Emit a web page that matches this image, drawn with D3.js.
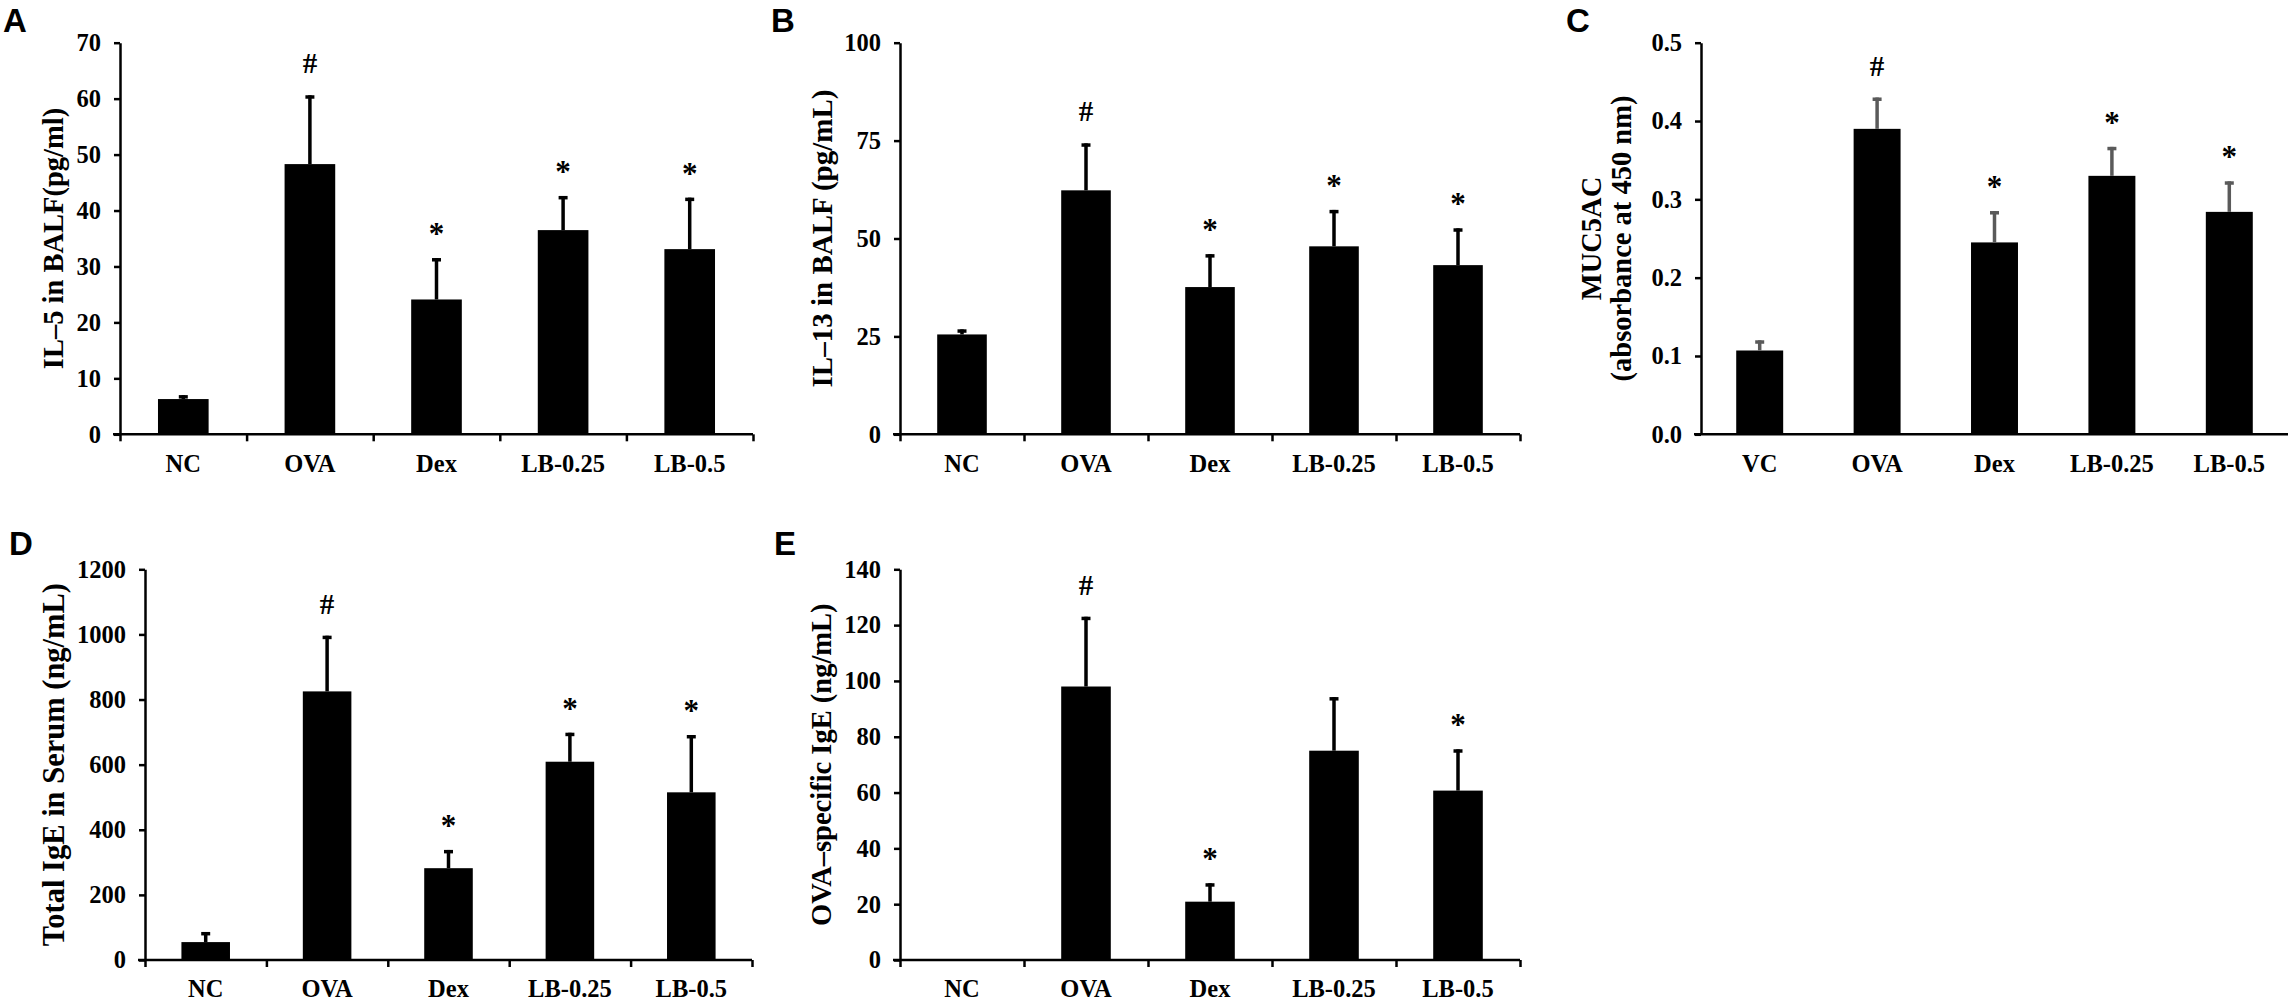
<!DOCTYPE html>
<html>
<head>
<meta charset="utf-8">
<script src="https://cdn.jsdelivr.net/npm/d3@7"></script>
<style>
  body { margin: 0; background: #fff; }
  svg { display: block; }
</style>
</head>
<body>
<script>
var width = 2292, height = 1004;

/** categories **/
var groupsNC = ["NC", "OVA", "Dex", "LB-0.25", "LB-0.5"];
var groupsVC = ["VC", "OVA", "Dex", "LB-0.25", "LB-0.5"];

/** A: IL-5 in BALF **/
var il5Mean = [6.3, 48.3, 24.1, 36.5, 33.1];
var il5Err  = [0.7, 12.3, 7.4, 6.1, 9.2];
var il5Sig  = ["", "#", "*", "*", "*"];
var il5Ticks = [0, 10, 20, 30, 40, 50, 60, 70];

/** B: IL-13 in BALF **/
var il13Mean = [25.5, 62.3, 37.6, 48.0, 43.2];
var il13Err  = [1.3, 12.0, 8.4, 9.3, 9.4];
var il13Sig  = ["", "#", "*", "*", "*"];
var il13Ticks = [0, 25, 50, 75, 100];

/** C: MUC5AC **/
var mucMean = [0.107, 0.390, 0.245, 0.330, 0.284];
var mucErr  = [0.013, 0.040, 0.040, 0.037, 0.039];
var mucSig  = ["", "#", "*", "*", "*"];
var mucTicks = [0, 0.1, 0.2, 0.3, 0.4, 0.5];

/** D: total IgE in serum **/
var igeMean = [55, 825, 282, 609, 515];
var igeErr  = [31, 171, 56, 89, 176];
var igeSig  = ["", "#", "*", "*", "*"];
var igeTicks = [0, 200, 400, 600, 800, 1000, 1200];

/** E: OVA-specific IgE **/
var ovaMean = [0, 98.0, 20.9, 75.0, 60.7];
var ovaErr  = [0, 25.0, 6.6, 19.2, 14.8];
var ovaSig  = ["", "#", "*", "", "*"];
var ovaTicks = [0, 20, 40, 60, 80, 100, 120, 140];

var serif = "'Liberation Serif', 'Times New Roman', serif";
var sans = "'Liberation Sans', Arial, sans-serif";

var svg = d3.select("body").append("svg")
    .attr("width", width)
    .attr("height", height);

svg.append("rect").attr("width", width).attr("height", height).attr("fill", "#fff");

/** panel layout **/
var panels = [
  { letter: "A", lx: 3, ly: 32, x0: 120, x1: 753, top: 42.7, bottom: 434.3,
    cats: groupsNC, mean: il5Mean, err: il5Err, sig: il5Sig, ticks: il5Ticks, fmt: d3.format("d"),
    title: ["IL\u20135 in BALF(pg/ml)"], tx: 54, tSize: 28.5, xTicks: true, errColor: "#000" },
  { letter: "B", lx: 771, ly: 32, x0: 900, x1: 1520, top: 42.7, bottom: 434.3,
    cats: groupsNC, mean: il13Mean, err: il13Err, sig: il13Sig, ticks: il13Ticks, fmt: d3.format("d"),
    title: ["IL\u201313 in BALF (pg/mL)"], tx: 822, tSize: 29, xTicks: true, errColor: "#000" },
  { letter: "C", lx: 1566, ly: 32, x0: 1701, x1: 2288, top: 42.7, bottom: 434.3,
    cats: groupsVC, mean: mucMean, err: mucErr, sig: mucSig, ticks: mucTicks, fmt: d3.format(".1f"),
    title: ["MUC5AC", "(absorbance at 450 nm)"], tx: 1607, tSize: 28.5, xTicks: false, errColor: "#5a5a5a" },
  { letter: "D", lx: 9, ly: 555, x0: 145, x1: 752, top: 569.3, bottom: 960,
    cats: groupsNC, mean: igeMean, err: igeErr, sig: igeSig, ticks: igeTicks, fmt: d3.format("d"),
    title: ["Total IgE in Serum (ng/mL)"], tx: 54, tSize: 30.5, xTicks: true, errColor: "#000" },
  { letter: "E", lx: 774, ly: 555, x0: 900, x1: 1520, top: 569.3, bottom: 960,
    cats: groupsNC, mean: ovaMean, err: ovaErr, sig: ovaSig, ticks: ovaTicks, fmt: d3.format("d"),
    title: ["OVA\u2013specific IgE (ng/mL)"], tx: 822, tSize: 28.5, xTicks: true, errColor: "#000" }
];

panels.forEach(drawPanel);

function drawPanel(p) {
  var g = svg.append("g");
  var n = p.cats.length;

  var x = d3.scaleBand().domain(p.cats).range([p.x0, p.x1])
      .paddingInner(0.6).paddingOuter(0.3);
  var y = d3.scaleLinear().domain([0, p.ticks[p.ticks.length - 1]]).range([p.bottom, p.top]);

  // panel letter
  g.append("text")
      .attr("x", p.lx).attr("y", p.ly)
      .attr("font-family", sans).attr("font-weight", "bold").attr("font-size", 33)
      .text(p.letter);

  // bars
  g.selectAll("rect.bar")
    .data(p.cats)
    .enter().append("rect")
      .attr("class", "bar")
      .attr("x", d => x(d))
      .attr("width", x.bandwidth())
      .attr("y", (d, i) => y(p.mean[i]))
      .attr("height", (d, i) => p.bottom - y(p.mean[i]))
      .attr("fill", "#000");

  // error bars (upper only)
  var cap = 4.5;
  p.cats.forEach((d, i) => {
    if (p.err[i] <= 0) return;
    var cx = x(d) + x.bandwidth() / 2;
    var yTop = y(p.mean[i] + p.err[i]);
    g.append("line")
        .attr("x1", cx).attr("x2", cx)
        .attr("y1", y(p.mean[i])).attr("y2", yTop)
        .attr("stroke", p.errColor).attr("stroke-width", 3.5);
    g.append("line")
        .attr("x1", cx - cap).attr("x2", cx + cap)
        .attr("y1", yTop + 1.7).attr("y2", yTop + 1.7)
        .attr("stroke", p.errColor).attr("stroke-width", 3.5);
  });

  // significance marks
  g.selectAll("text.sig")
    .data(p.cats)
    .enter().append("text")
      .attr("class", "sig")
      .attr("x", d => x(d) + x.bandwidth() / 2)
      .attr("y", (d, i) => y(p.mean[i] + p.err[i]) - (p.sig[i] == "#" ? 22 : 14))
      .attr("text-anchor", "middle")
      .attr("font-family", serif).attr("font-weight", "bold")
      .attr("font-size", (d, i) => p.sig[i] == "#" ? 29 : 31)
      .text((d, i) => p.sig[i]);

  // y axis
  var yAxis = g.append("g")
      .attr("transform", "translate(" + p.x0 + ",0)")
      .call(d3.axisLeft(y).tickValues(p.ticks).tickFormat(p.fmt)
        .tickSize(6).tickSizeOuter(0).tickPadding(13));
  styleAxis(yAxis, 24.5);

  // x axis line with boundary ticks
  var xb = d3.scaleLinear().domain([0, n]).range([p.x0, p.x1]);
  var xLine = g.append("g")
      .attr("transform", "translate(0," + p.bottom + ")")
      .call(d3.axisBottom(xb).tickValues(d3.range(0, n + 1))
        .tickSize(p.xTicks ? 7 : 0).tickSizeOuter(0).tickFormat(""));
  xLine.select(".domain").attr("d", "M" + (p.x0 - 7) + ",0H" + p.x1);
  styleAxis(xLine, 24);

  // category labels
  var xLab = g.append("g")
      .attr("transform", "translate(0," + p.bottom + ")")
      .call(d3.axisBottom(x).tickSize(0).tickPadding(20));
  xLab.select(".domain").remove();
  styleAxis(xLab, 24.5);

  // y title
  var t = g.append("g")
      .attr("transform", "translate(" + p.tx + "," + ((p.top + p.bottom) / 2) + ") rotate(-90)");
  var lines = p.title.length;
  p.title.forEach((s, i) => {
    t.append("text")
        .attr("x", 0)
        .attr("y", (i - (lines - 1) / 2) * 30)
        .attr("dy", "0.33em")
        .attr("text-anchor", "middle")
        .attr("font-family", serif).attr("font-weight", "bold").attr("font-size", p.tSize)
        .text(s);
  });
}

function styleAxis(sel, size) {
  sel.attr("font-family", serif).attr("font-size", size).attr("font-weight", "bold");
  sel.selectAll("path, line").attr("stroke", "#000").attr("stroke-width", 2.5);
  sel.selectAll("text").attr("fill", "#000");
}
</script>
</body>
</html>
